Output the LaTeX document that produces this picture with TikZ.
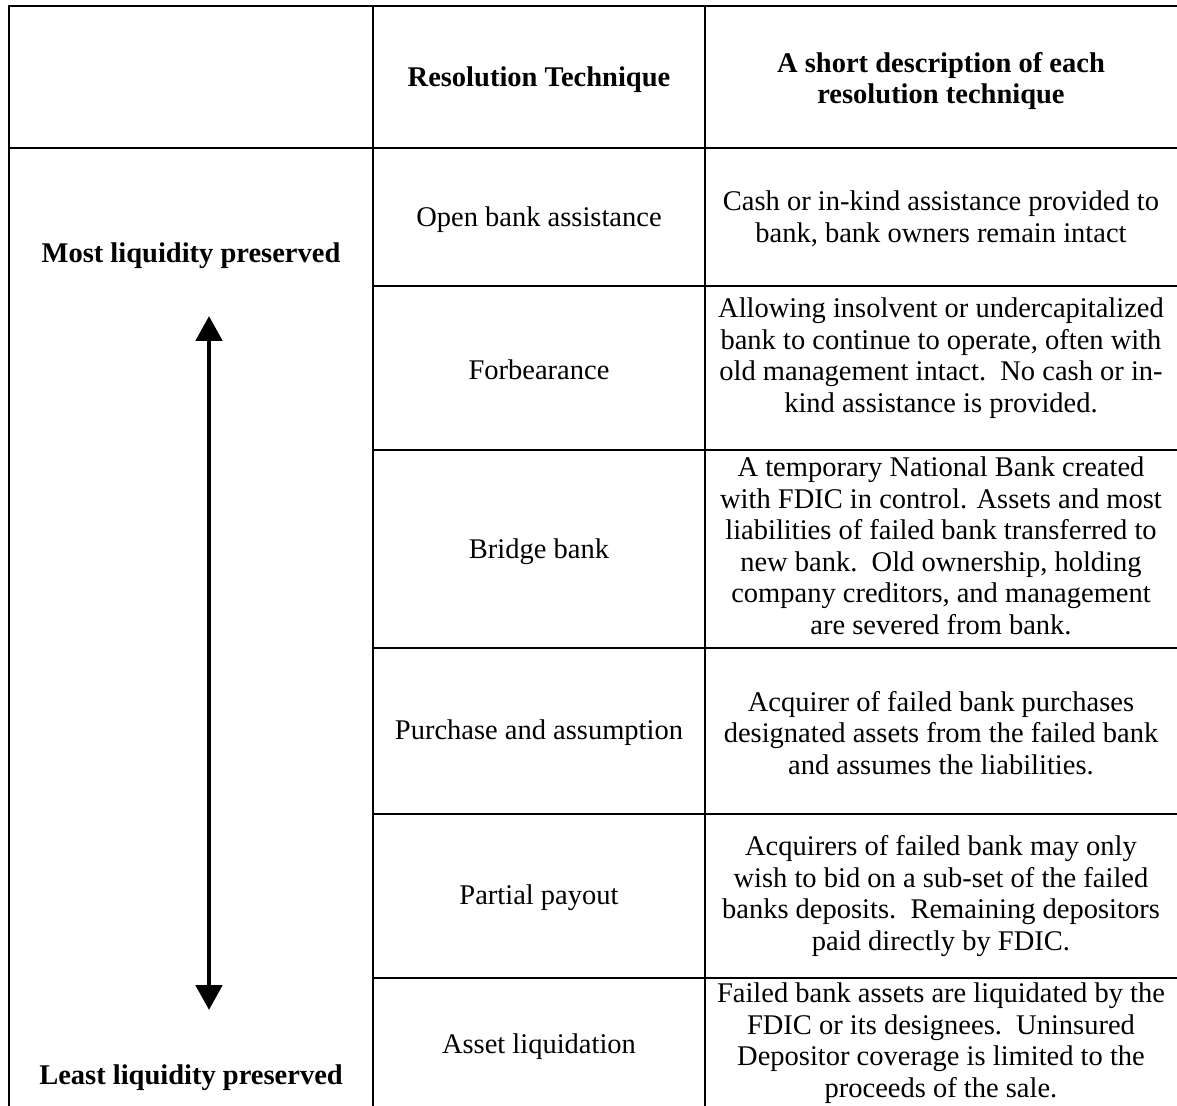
\documentclass[tikz,border=0pt]{standalone}
\usepackage{fontspec}
\setmainfont{Liberation Serif}
\usetikzlibrary{arrows.meta}
\begin{document}
\begin{tikzpicture}[x=0.42105pt,y=-0.42105pt,
  grid/.style={line width=0.84pt, line cap=rect},
  cell/.style={align=center, font=\fontsize{12}{13.26}\selectfont, inner sep=0pt},
  head/.style={align=center, font=\fontsize{12}{13.26}\selectfont\bfseries, inner sep=0pt},
  bigarrow/.style={line width=2.1pt, {Triangle[width=10.95pt,length=10.5pt]}-{Triangle[width=10.95pt,length=10.5pt]}}
]
\useasboundingbox (0,0) rectangle (1177,1106);
% table rules
\draw[grid] (1185,6) -| (9,1115);
\draw[grid] (373,6) -- (373,1115);
\draw[grid] (705,6) -- (705,1115);
\draw[grid] (9,148) -- (1185,148);
\foreach \yy in {286,450,648,814,978} \draw[grid] (373,\yy) -- (1185,\yy);
% headers
\node[head] (h2) at (539,80) {Resolution Technique};
\node[head] (h3) at (941,81) {A short description of each\\resolution technique};
% left column
\node[head] (most) at (191,256) {Most liquidity preserved};
\node[head] (least) at (191,1078) {Least liquidity preserved};
\coordinate (atop) at (209,316);
\coordinate (abot) at (209,1010);
\draw[bigarrow] (atop) -- (abot);
% techniques
\node[cell] (t1) at (539,220) {Open bank assistance};
\node[cell] (t2) at (539,370) {Forbearance};
\node[cell] (t3) at (539,552) {Bridge bank};
\node[cell] (t4) at (539,733) {Purchase and assumption};
\node[cell] (t5) at (539,898) {Partial payout};
\node[cell] (t6) at (539,1047) {Asset liquidation};
% descriptions
\node[cell] (d1) at (941,219) {Cash or in-kind assistance provided to\\bank, bank owners remain intact};
\node[cell] (d2) at (941,358) {Allowing insolvent or undercapitalized\\bank to continue to operate, often with\\old management intact.\ \ No cash or in-\\kind assistance is provided.};
\node[cell] (d3) at (941,546) {A temporary National Bank created\\with FDIC in control. Assets and most\\liabilities of failed bank transferred to\\new bank.\ \ Old ownership, holding\\company creditors, and management\\are severed from bank.};
\node[cell] (d4) at (941,733) {Acquirer of failed bank purchases\\designated assets from the failed bank\\and assumes the liabilities.};
\node[cell] (d5) at (941,896) {Acquirers of failed bank may only\\wish to bid on a sub-set of the failed\\banks deposits.\ \ Remaining depositors\\paid directly by FDIC.};
\node[cell] (d6) at (941,1043) {Failed bank assets are liquidated by the\\FDIC or its designees.\ \ Uninsured\\Depositor coverage is limited to the\\proceeds of the sale.};
\end{tikzpicture}
\end{document}
